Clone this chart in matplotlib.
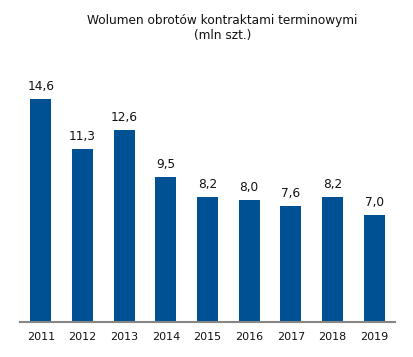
import matplotlib.pyplot as plt

years = ['2011', '2012', '2013', '2014', '2015', '2016', '2017', '2018', '2019']
volumes = [14.6, 11.3, 12.6, 9.5, 8.2, 8.0, 7.6, 8.2, 7.0]
labels = ['14,6', '11,3', '12,6', '9,5', '8,2', '8,0', '7,6', '8,2', '7,0']

plt.rcParams['font.family'] = ['DejaVu Sans']
plt.rcParams['font.size'] = 8

fig = plt.figure(figsize=(4.13, 3.57), dpi=100)
ax = fig.add_axes([20 / 413, 1 - 322 / 357, 375 / 413, 244.4 / 357])

x = range(len(years))
bars = ax.bar(x, volumes, width=0.5, color='#005094')

for i, v in enumerate(volumes):
    ax.annotate(labels[i], (i, v), xytext=(0, 6.5), textcoords='offset points',
                ha='center', va='baseline', color='#111111', fontsize=8.7)

ax.set_xlim(-0.5, len(years) - 0.5)
ax.set_ylim(0, 16)
ax.set_xticks(list(x))
ax.set_xticklabels(years)
ax.tick_params(axis='x', length=0, pad=7, labelcolor='#111111', labelsize=8)
ax.set_yticks([])
for s in ['top', 'left', 'right']:
    ax.spines[s].set_visible(False)
ax.spines['bottom'].set_color('#868686')
ax.spines['bottom'].set_linewidth(1.5)

fig.text(222.5 / 413, 1 - 28 / 357, 'Wolumen obrotów kontraktami terminowymi\n(mln szt.)',
         ha='center', va='center', fontsize=8.7, color='#111111', linespacing=1.25)

fig.savefig('out.png', dpi=100)
